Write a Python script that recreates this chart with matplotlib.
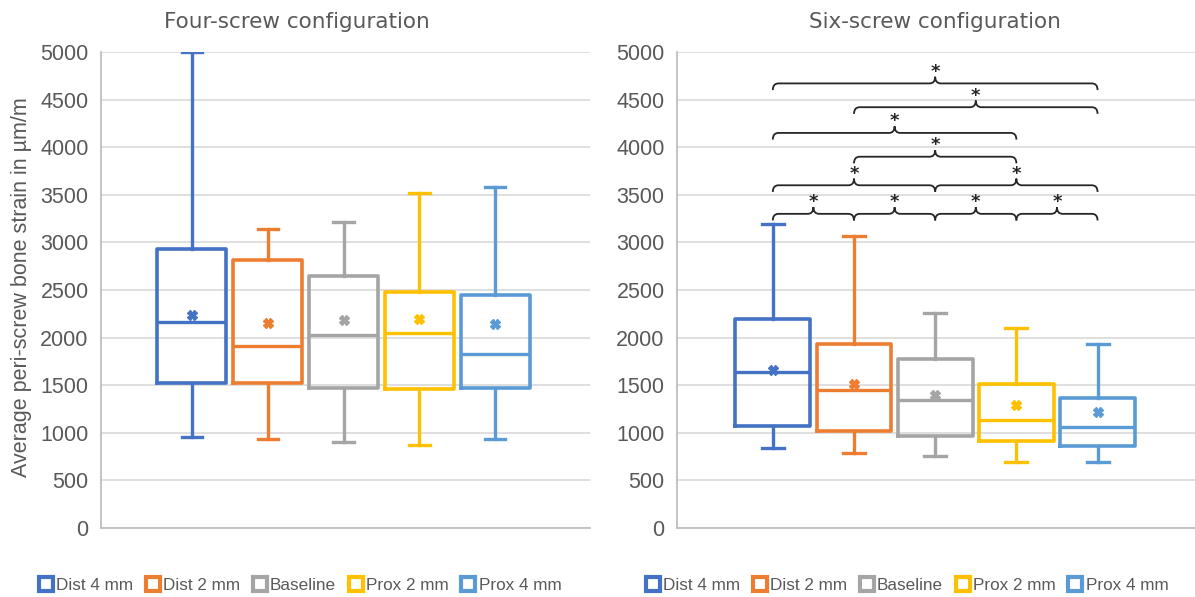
import matplotlib.pyplot as plt
from matplotlib.path import Path
from matplotlib.patches import PathPatch
from matplotlib.lines import Line2D

plt.rcParams['font.family'] = ['Liberation Sans', 'DejaVu Sans']

groups = ['Dist 4 mm', 'Dist 2 mm', 'Baseline', 'Prox 2 mm', 'Prox 4 mm']
colors = ['#4472C4', '#ED7D31', '#A5A5A5', '#FFC000', '#5B9BD5']

# four-screw configuration
four_whislo = [960, 940, 905, 870, 930]
four_q1 = [1520, 1520, 1475, 1465, 1475]
four_med = [2160, 1910, 2030, 2045, 1825]
four_q3 = [2930, 2815, 2650, 2480, 2445]
four_whishi = [5000, 3145, 3210, 3515, 3585]
four_mean = [2240, 2155, 2185, 2195, 2140]

# six-screw configuration
six_whislo = [840, 790, 760, 695, 695]
six_q1 = [1075, 1020, 965, 910, 865]
six_med = [1640, 1450, 1345, 1130, 1065]
six_q3 = [2195, 1930, 1780, 1510, 1370]
six_whishi = [3195, 3070, 2255, 2100, 1930]
six_mean = [1660, 1515, 1400, 1295, 1215]

# significant pairs (group index a, group index b) and the brace height
sig_pairs = [(0, 1), (1, 2), (2, 3), (3, 4), (0, 2), (2, 4), (1, 3), (0, 3), (1, 4), (0, 4)]
sig_levels = [3300, 3300, 3300, 3300, 3600, 3600, 3900, 4150, 4420, 4670]

yticks = [0, 500, 1000, 1500, 2000, 2500, 3000, 3500, 4000, 4500, 5000]
txt = '#595959'


def make_stats(lo, q1, med, q3, hi, mean):
    stats = []
    for i in range(len(lo)):
        stats.append(dict(whislo=lo[i], q1=q1[i], med=med[i], q3=q3[i],
                          whishi=hi[i], mean=mean[i], fliers=[]))
    return stats


def draw_panel(ax, stats, width):
    for i, st in enumerate(stats):
        c = colors[i]
        ax.bxp([st], positions=[i], widths=width, capwidths=0.27,
               showmeans=True, showfliers=False, manage_ticks=False,
               boxprops=dict(color=c, lw=2.6),
               medianprops=dict(color=c, lw=2.4),
               whiskerprops=dict(color=c, lw=2.4),
               capprops=dict(color=c, lw=2.4),
               meanprops=dict(marker='X', markerfacecolor=c, markeredgecolor=c,
                              markersize=7))
    ax.set_ylim(0, 5000)
    ax.set_yticks(yticks)
    ax.set_xticks([])
    ax.tick_params(axis='y', length=0, pad=9, labelsize=15.5, labelcolor=txt)
    ax.grid(axis='y', color='#D9D9D9', lw=1.2)
    ax.set_axisbelow(True)
    for s in ['top', 'right']:
        ax.spines[s].set_visible(False)
    ax.spines['left'].set_color('#BFBFBF')
    ax.spines['bottom'].set_color('#BFBFBF')
    ax.spines['left'].set_linewidth(1.3)
    ax.spines['bottom'].set_linewidth(1.3)


def brace(ax, x0, x1, y, h=70, r=0.07):
    xm = (x0 + x1) / 2
    verts = [(x0, y - h), (x0, y), (x0 + r, y),
             (xm - r, y),
             (xm, y), (xm, y + h),
             (xm, y), (xm + r, y),
             (x1 - r, y),
             (x1, y), (x1, y - h)]
    codes = [Path.MOVETO, Path.CURVE3, Path.CURVE3,
             Path.LINETO,
             Path.CURVE3, Path.CURVE3,
             Path.CURVE3, Path.CURVE3,
             Path.LINETO,
             Path.CURVE3, Path.CURVE3]
    ax.add_patch(PathPatch(Path(verts, codes), fill=False, edgecolor='#262626', lw=1.3))
    ax.text(xm, y + h + 50, '*', ha='center', va='center', fontsize=13,
            fontweight='bold', family='DejaVu Sans', color='#262626')


fig = plt.figure(figsize=(11.95, 5.97), dpi=100)
ax1 = fig.add_axes([101 / 1195, 69 / 597, 489 / 1195, 476 / 597])
ax2 = fig.add_axes([677 / 1195, 69 / 597, 518 / 1195, 476 / 597])

draw_panel(ax1, make_stats(four_whislo, four_q1, four_med, four_q3, four_whishi, four_mean), 0.91)
ax1.set_xlim(-1.2, 5.25)
draw_panel(ax2, make_stats(six_whislo, six_q1, six_med, six_q3, six_whishi, six_mean), 0.92)
ax2.set_xlim(-1.18, 5.2)

for (a, b), lev in zip(sig_pairs, sig_levels):
    brace(ax2, a, b, lev)

fig.text(297 / 1195, 1 - 22 / 597, 'Four-screw configuration', ha='center', va='center',
         fontsize=15.5, color=txt, family='DejaVu Sans')
fig.text(935 / 1195, 1 - 22 / 597, 'Six-screw configuration', ha='center', va='center',
         fontsize=15.5, color=txt, family='DejaVu Sans')
fig.text(22 / 1195, 1 - 287 / 597, 'Average peri-screw bone strain in µm/m', rotation=90,
         ha='center', va='center', fontsize=15.5, color=txt)

handles = [Line2D([], [], ls='none', marker='s', markersize=9.5, markerfacecolor='white',
                  markeredgecolor=c, markeredgewidth=3) for c in colors]
for cx in [300 / 1195, 907 / 1195]:
    fig.legend(handles, groups, loc='center', bbox_to_anchor=(cx, 1 - 585 / 597), ncol=5,
               frameon=False, fontsize=12.3, handlelength=0.8, handletextpad=0.2,
               columnspacing=0.75, labelcolor=txt)

fig.savefig('out.png', dpi=100)
